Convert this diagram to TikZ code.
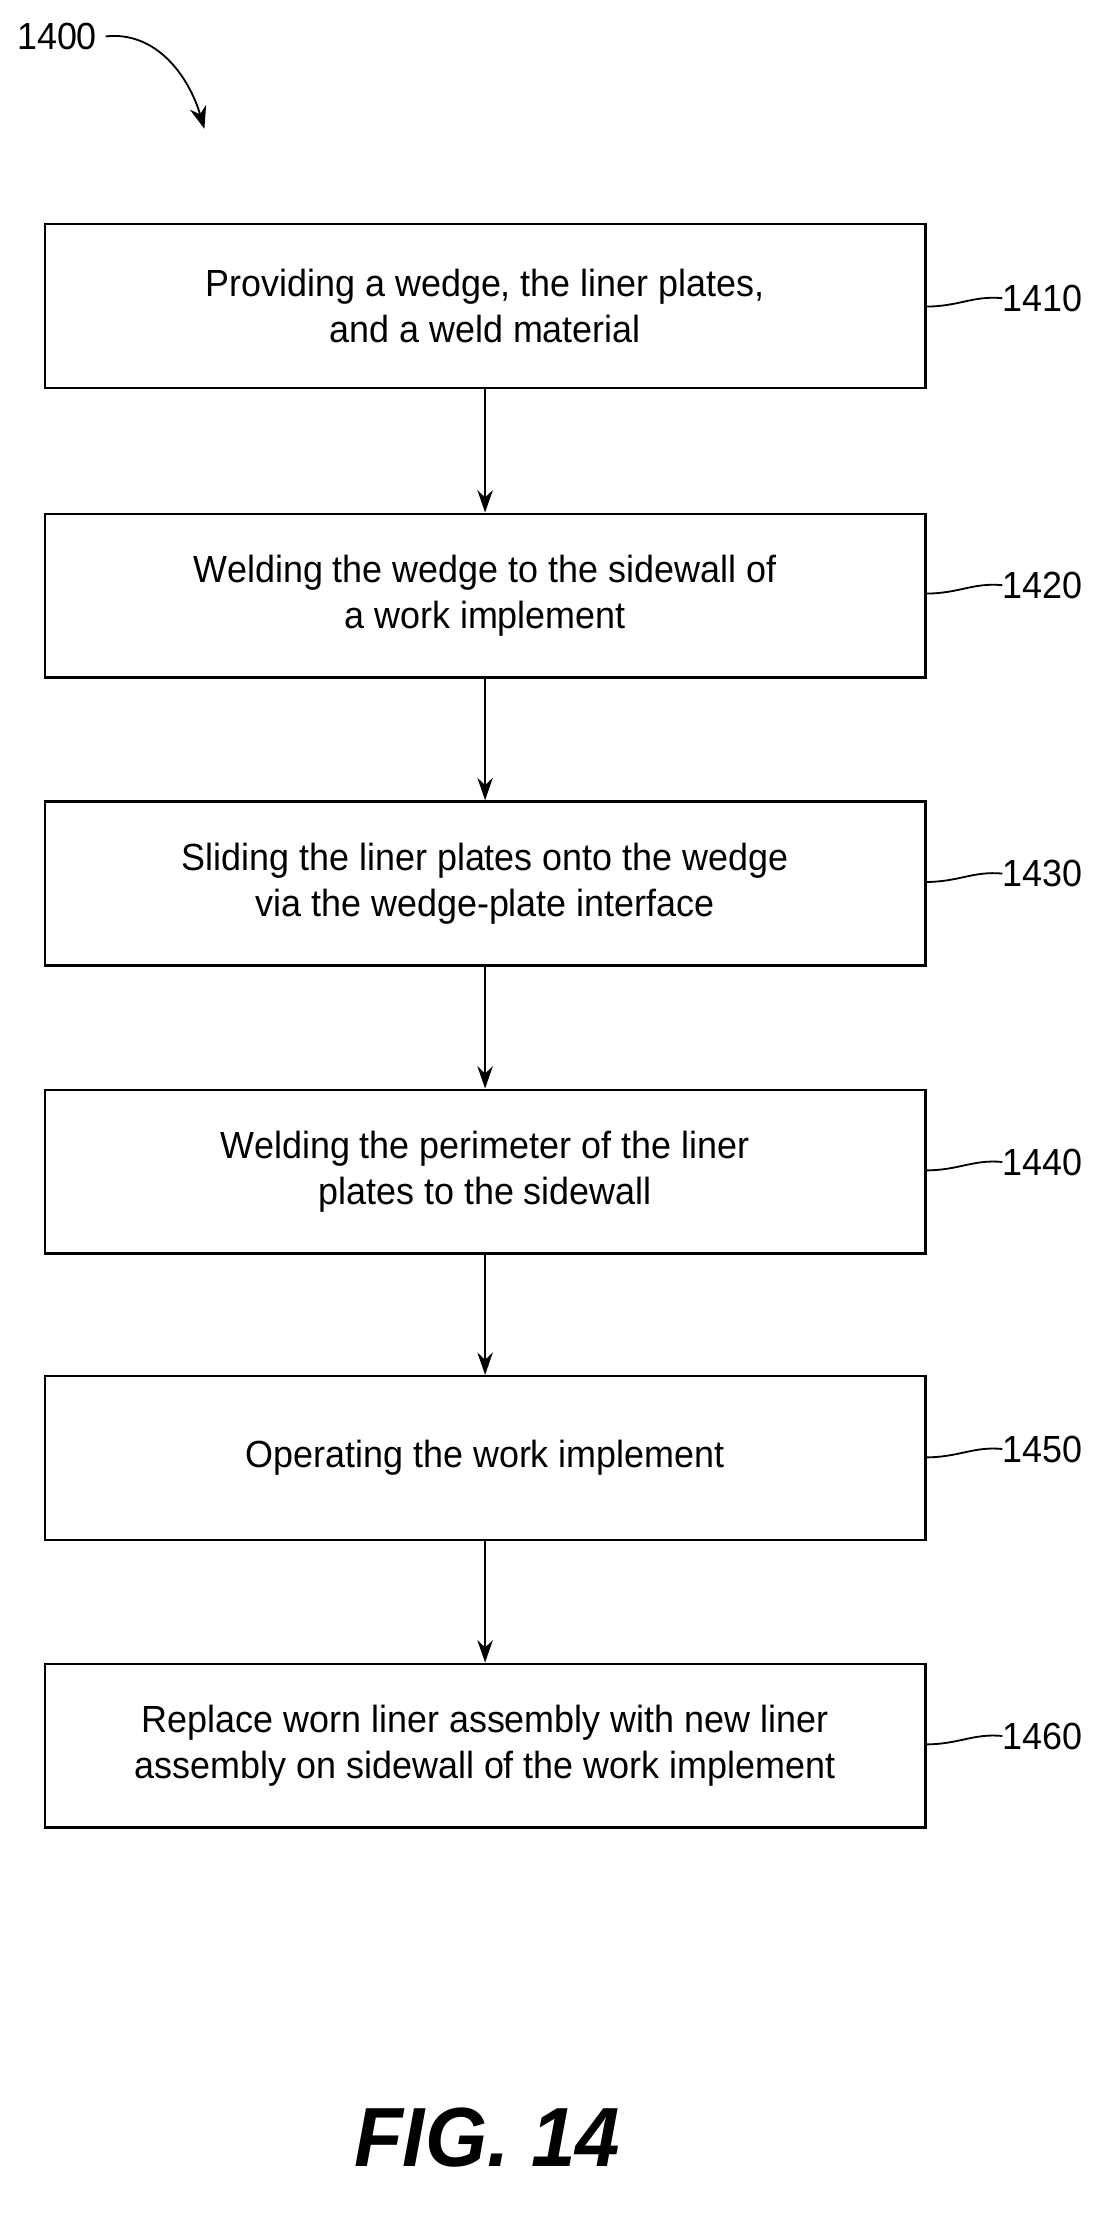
\documentclass[tikz,border=0pt]{standalone}
\usepackage{fontspec}
\setmainfont{Liberation Sans}[FakeStretch = 0.95]
\usetikzlibrary{arrows.meta}

\begin{document}
\begin{tikzpicture}[x = 1pt, y = -1pt, font=\fontsize{27}{33}\selectfont]
	\tikzstyle{stepStyle}=[draw, line width = 1.8pt, minimum width = 629pt, minimum height = 117pt, align = center, inner sep = 0pt]
	\tikzstyle{flowStyle}=[draw, line width = 1.5pt, -{Stealth[length = 16pt, width = 11pt]}]
	\tikzstyle{refStyle}=[anchor = west, inner sep = 0pt]
	\tikzstyle{leaderStyle}=[draw, line width = 1.3pt]
	\useasboundingbox (0,0) rectangle (800,1583.6);
	\node[refStyle] (r1400) at (12,26) {1400};
	\coordinate (c1400) at (146,92);
	\draw[leaderStyle, -{Stealth[length = 16pt, width = 12pt]}] ([xshift=6pt]r1400.east) .. controls (112,22) and (135,55) .. (c1400);
	\node[stepStyle] (s1410) at (346.5,218.5) {Providing a wedge, the liner plates,\\and a weld material};
	\node[stepStyle] (s1420) at (346.5,425.5) {Welding the wedge to the sidewall of\\a work implement};
	\node[stepStyle] (s1430) at (346.5,631) {Sliding the liner plates onto the wedge\\via the wedge-plate interface};
	\node[stepStyle] (s1440) at (346.5,837) {Welding the perimeter of the liner\\plates to the sidewall};
	\node[stepStyle] (s1450) at (346.5,1041.5) {Operating the work implement};
	\node[stepStyle] (s1460) at (346.5,1247) {Replace worn liner assembly with new liner\\assembly on sidewall of the work implement};
	\foreach \a/\b in {s1410/s1420, s1420/s1430, s1430/s1440, s1440/s1450, s1450/s1460}
		\draw[flowStyle] (\a) -- (\b);
	\foreach \n/\yy in {1410/213, 1420/418, 1430/624, 1440/830, 1450/1035, 1460/1240} {
		\node[refStyle] (r\n) at (716,\yy) {\n};
		\draw[leaderStyle] (661,\yy+6) .. controls (685,\yy+6) and (695,\yy-2) .. (r\n.west);
	}
	\node[font=\fontsize{60}{62}\selectfont\bfseries\itshape] (fig) at (348,1527) {FIG. 14};
\end{tikzpicture}
\end{document}
